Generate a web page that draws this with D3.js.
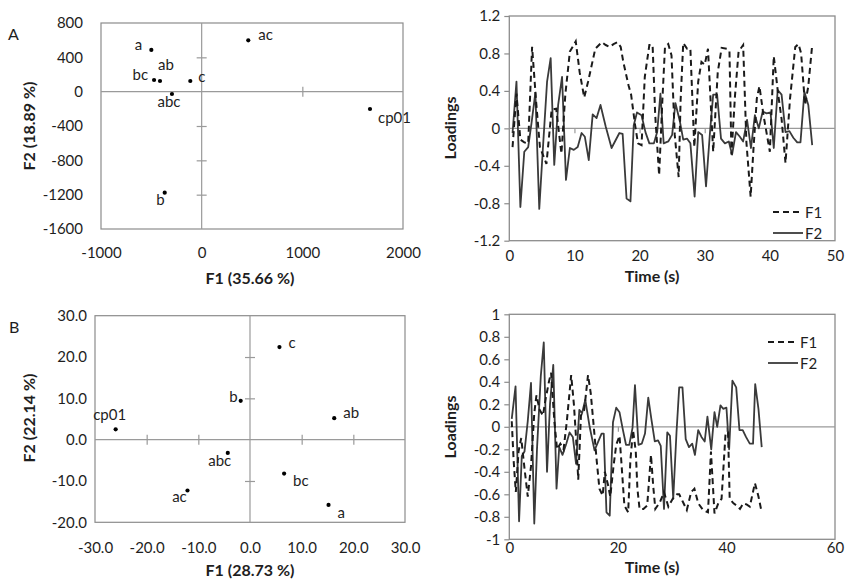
<!DOCTYPE html>
<html><head><meta charset="utf-8">
<script src="https://cdn.jsdelivr.net/npm/d3@7"></script>
<style>
html,body{margin:0;padding:0;background:#fff;}
svg{display:block;font-family:Lato,"Open Sans",sans-serif;}
</style></head>
<body>
<svg id="c" width="846" height="587"></svg>
<script>
// ---------- DATA ----------
// Panel A (scores)
const namesA = ["a","ab","bc","c","abc","ac","cp01","b"];
const scoreF1A = [-500,-414,-473,-113,-295,463,1672,-367];
const scoreF2A = [486,124,136,124,-27,598,-202,-1177];
const xTicksA = [-1000,0,1000,2000];
const yTicksA = [800,400,0,-400,-800,-1200,-1600];

// Panel B (scores)
const namesB = ["c","b","ab","cp01","abc","bc","ac","a"];
const scoreF1B = [5.7,-1.8,16.3,-26.0,-4.3,6.6,-12.1,15.2];
const scoreF2B = [22.4,9.4,5.2,2.5,-3.2,-8.2,-12.3,-15.8];
const xTicksB = [-30,-20,-10,0,10,20,30];
const yTicksB = [30,20,10,0,-10,-20];

// Panel A loadings: [time (s), loading]
const loadF1A = [[0.5,-0.2],[1.1,0.37],[1.7,-0.12],[2.3,-0.15],[2.9,-0.16],[3.5,0.87],[4.1,0.3],[4.7,-0.2],[5.7,-0.38],[6.5,0.2],[7.2,0.21],[8.0,-0.27],[8.6,0.36],[9.3,0.82],[10.2,0.93],[10.8,0.6],[11.5,0.33],[12.1,0.5],[13.2,0.85],[14.2,0.92],[14.8,0.89],[15.4,0.87],[16.0,0.9],[16.6,0.92],[17.1,0.87],[17.5,0.71],[18.3,0.46],[18.7,0.36],[19.3,0.04],[19.75,-0.16],[20.3,-0.18],[20.8,0.55],[21.5,0.89],[22.0,0.89],[22.4,0.14],[23.0,-0.5],[23.5,0.3],[23.9,0.87],[24.4,0.9],[24.9,0.78],[25.4,-0.07],[26.0,-0.52],[26.3,0.3],[26.7,0.91],[27.3,0.85],[27.8,0.85],[28.4,-0.2],[29.0,0.5],[29.5,0.71],[30.0,0.68],[30.5,0.85],[31.3,-0.25],[32.0,0.6],[32.6,0.86],[33.4,0.85],[33.8,0.82],[34.1,-0.28],[34.65,0.35],[35.2,0.82],[35.9,0.89],[36.4,-0.15],[37.05,-0.73],[37.5,-0.2],[38.0,0.32],[38.4,0.45],[39.0,0.15],[40.0,-0.25],[40.6,0.77],[41.3,0.35],[41.8,0.1],[42.4,-0.37],[43.1,0.32],[43.9,0.87],[44.4,0.9],[44.8,0.8],[45.4,0.25],[45.9,0.45],[46.5,0.89]];
const loadF2A = [[0.5,-0.05],[1.1,0.5],[1.7,-0.84],[2.3,-0.25],[2.9,-0.2],[3.4,0.05],[4.0,0.38],[4.6,-0.86],[5.1,-0.28],[5.8,0.5],[6.35,0.75],[6.9,-0.39],[7.5,0.25],[8.1,0.55],[8.7,-0.55],[9.3,-0.21],[9.9,-0.23],[10.5,-0.2],[11.1,-0.05],[11.6,-0.09],[12.2,-0.34],[12.8,0.15],[13.4,0.11],[14.0,0.25],[14.8,0.02],[15.7,-0.21],[16.9,-0.05],[17.4,-0.06],[18.0,-0.75],[18.6,-0.78],[19.1,0.03],[19.6,0.17],[20.3,0.14],[20.9,-0.04],[21.5,-0.16],[22.2,-0.16],[22.7,-0.04],[23.2,0.37],[23.7,-0.16],[24.4,-0.14],[25.0,-0.07],[25.5,0.27],[26.2,0.07],[26.7,-0.12],[27.3,-0.11],[27.8,-0.16],[28.45,-0.73],[29.0,-0.04],[29.6,-0.07],[30.2,-0.62],[30.8,-0.05],[31.3,0.36],[31.9,0.36],[32.5,-0.11],[33.1,-0.16],[33.7,-0.14],[34.2,-0.28],[34.8,-0.04],[35.4,-0.09],[35.9,-0.14],[36.5,0.09],[37.1,-0.21],[37.7,0.14],[38.3,0.0],[38.9,0.18],[39.5,0.16],[40.1,0.17],[40.6,-0.21],[41.2,0.41],[41.8,0.36],[42.4,-0.04],[43.0,-0.03],[43.6,-0.1],[44.2,-0.15],[44.7,-0.15],[45.3,0.39],[45.9,0.25],[46.5,-0.18]];
const timeTicksA = [0,10,20,30,40,50];
const loadTicksA = [1.2,0.8,0.4,0,-0.4,-0.8,-1.2];

// Panel B loadings
const loadF1B = [[0.45,0.05],[0.8,-0.3],[1.2,-0.58],[1.7,-0.22],[2.2,-0.1],[2.8,-0.37],[3.4,-0.62],[4.0,-0.35],[4.6,0.12],[5.0,0.28],[5.6,0.15],[6.2,0.1],[6.7,0.25],[7.3,0.4],[7.7,0.48],[8.3,0.05],[8.8,-0.2],[9.4,-0.15],[10.0,-0.2],[10.6,0.05],[11.4,0.46],[11.9,0.2],[12.3,-0.1],[12.7,-0.47],[13.2,0.1],[13.8,0.15],[14.5,0.46],[15.0,0.3],[15.6,-0.02],[16.1,-0.3],[16.6,-0.55],[17.2,-0.61],[17.6,-0.4],[18.2,-0.52],[18.6,-0.62],[19.2,-0.35],[19.7,-0.16],[20.3,-0.08],[20.7,-0.35],[21.2,-0.7],[21.9,-0.76],[22.3,-0.3],[22.8,-0.03],[23.3,-0.22],[23.6,-0.55],[24.0,-0.73],[24.7,-0.73],[25.4,-0.7],[26.1,-0.25],[26.5,-0.52],[26.9,-0.73],[27.75,-0.67],[28.5,-0.58],[29.3,-0.71],[30.1,-0.64],[30.9,-0.6],[31.3,-0.6],[31.9,-0.66],[32.7,-0.74],[33.5,-0.58],[34.1,-0.55],[34.8,-0.68],[35.7,-0.74],[36.6,-0.76],[37.15,-0.22],[37.8,-0.77],[38.5,-0.68],[39.1,-0.64],[39.85,-0.05],[40.3,-0.05],[40.6,-0.64],[41.3,-0.68],[41.9,-0.7],[42.5,-0.73],[43.1,-0.68],[43.7,-0.69],[44.3,-0.71],[45.25,-0.5],[45.9,-0.62],[46.5,-0.76]];
const loadF2B = [[0.45,0.07],[1.15,0.36],[1.8,-0.84],[2.3,-0.26],[2.8,-0.22],[3.4,0.05],[4.0,0.39],[4.6,-0.86],[5.1,-0.2],[5.8,0.45],[6.35,0.75],[6.95,-0.4],[7.5,0.2],[8.1,0.55],[8.7,-0.55],[9.2,-0.18],[9.8,-0.25],[10.5,-0.15],[11.1,-0.05],[11.7,-0.09],[12.3,-0.33],[12.9,0.15],[13.4,0.12],[14.0,0.24],[14.8,0.0],[15.7,-0.21],[17.0,-0.06],[17.4,-0.06],[17.9,-0.76],[18.5,-0.79],[19.1,0.04],[19.7,0.17],[20.3,0.13],[20.9,-0.02],[21.5,-0.16],[22.1,-0.16],[22.7,-0.01],[23.15,0.37],[23.8,-0.16],[24.4,-0.15],[25.0,-0.06],[25.6,0.26],[26.2,0.06],[26.8,-0.13],[27.4,-0.12],[27.9,-0.17],[28.5,-0.73],[29.1,-0.05],[29.6,-0.08],[30.2,-0.64],[30.8,-0.05],[31.3,0.35],[31.9,0.35],[32.5,-0.11],[33.1,-0.18],[33.7,-0.15],[34.2,-0.25],[34.8,-0.03],[35.4,-0.09],[36.0,-0.13],[36.5,0.09],[37.2,-0.2],[37.8,0.13],[38.3,0.0],[38.9,0.19],[39.4,0.16],[40.0,0.17],[40.5,-0.2],[41.1,0.41],[41.8,0.35],[42.4,-0.03],[43.0,-0.03],[43.6,-0.09],[44.3,-0.15],[44.9,-0.15],[45.3,0.38],[45.9,0.16],[46.5,-0.18]];
const timeTicksB = [0,20,40,60];
const loadTicksB = [1,0.8,0.6,0.4,0.2,0,-0.2,-0.4,-0.6,-0.8,-1];

// ---------- LAYOUT / STYLE ----------
const svg = d3.select("#c");
const FRAME = "#8c8c8c", ZERO = "#9a9a9a", TXT = "#1e1e1e";
const TICKFONT = 15;
const loc = d3.formatLocale({decimal:".", thousands:",", grouping:[3], currency:["",""], minus:"-"});
const fmtInt = loc.format("d");
const fmt1 = loc.format(".1f");
const fmtLoad = v => loc.format("")(+(+v).toFixed(2));

// label placement per point name: [anchor, dx, dy]
const labA = {a:["end",-9,0], ab:["start",-2,-11], bc:["end",-6,0], c:["start",8,1], abc:["middle",-3,13], ac:["start",10,0], cp01:["start",8,14], b:["end",0,12]};
const labB = {c:["start",9,1], b:["end",-3,1], ab:["start",9,0], cp01:["middle",-6,-9], abc:["middle",-8,13], bc:["start",9,12], ac:["middle",-8,12], a:["start",9,13]};

function styleAxisText(g){
  g.selectAll("text").attr("fill",TXT).style("font-size",TICKFONT+"px").style("font-family","Lato, 'Open Sans', sans-serif");
  g.select(".domain").remove();
}

function scatter(cfg){
  const x = d3.scaleLinear().domain(cfg.xDom).range([cfg.l,cfg.r]);
  const y = d3.scaleLinear().domain(cfg.yDom).range([cfg.b,cfg.t]);
  const g = svg.append("g");
  g.append("rect").attr("x",cfg.l).attr("y",cfg.t).attr("width",cfg.r-cfg.l).attr("height",cfg.b-cfg.t)
    .attr("fill","none").attr("stroke",FRAME).attr("stroke-width",1.2);
  g.append("line").attr("x1",cfg.l).attr("x2",cfg.r).attr("y1",y(0)).attr("y2",y(0)).attr("stroke",ZERO).attr("stroke-width",1.2);
  g.append("line").attr("x1",x(0)).attr("x2",x(0)).attr("y1",cfg.t).attr("y2",cfg.b).attr("stroke",ZERO).attr("stroke-width",1.2);
  const cx = g.append("g").attr("transform",`translate(0,${y(0)-5})`)
    .call(d3.axisBottom(x).tickValues(cfg.xTicks.filter(v=>v!==0 && v!==cfg.xDom[0] && v!==cfg.xDom[1])).tickSize(10).tickFormat(""));
  cx.select(".domain").remove(); cx.selectAll("line").attr("stroke",ZERO).attr("stroke-width",1.2);
  const cy = g.append("g").attr("transform",`translate(${x(0)+5},0)`)
    .call(d3.axisLeft(y).tickValues(cfg.yTicks.filter(v=>v!==0 && v!==cfg.yDom[0] && v!==cfg.yDom[1])).tickSize(10).tickFormat(""));
  cy.select(".domain").remove(); cy.selectAll("line").attr("stroke",ZERO).attr("stroke-width",1.2);
  const ax = g.append("g").attr("transform",`translate(0,${cfg.b})`)
    .call(d3.axisBottom(x).tickValues(cfg.xTicks).tickSize(0).tickPadding(cfg.xPad).tickFormat(cfg.fmt));
  styleAxisText(ax);
  const ay = g.append("g").attr("transform",`translate(${cfg.l},0)`)
    .call(d3.axisLeft(y).tickValues(cfg.yTicks).tickSize(0).tickPadding(cfg.yPad).tickFormat(cfg.fmt));
  styleAxisText(ay);
  const pts = cfg.names.map((n,i)=>({n, x:cfg.xs[i], y:cfg.ys[i]}));
  g.selectAll("circle.p").data(pts).join("circle").attr("class","p")
    .attr("cx",d=>x(d.x)).attr("cy",d=>y(d.y)).attr("r",2.1).attr("fill","#000");
  g.selectAll("text.lab").data(pts).join("text").attr("class","lab")
    .attr("x",d=>x(d.x)+cfg.lab[d.n][1]).attr("y",d=>y(d.y)+cfg.lab[d.n][2])
    .attr("text-anchor",d=>cfg.lab[d.n][0]).attr("fill",TXT).style("font-size","15px").text(d=>d.n);
  g.append("text").attr("x",cfg.xtX).attr("y",cfg.xtY).attr("text-anchor","middle").attr("fill",TXT)
    .style("font-size","16px").style("font-weight","bold").text(cfg.xTitle);
  g.append("text").attr("transform",`translate(${cfg.ytX},${cfg.ytY}) rotate(-90)`).attr("text-anchor","middle").attr("fill",TXT)
    .style("font-size","16px").style("font-weight","bold").text(cfg.yTitle);
  g.append("text").attr("x",cfg.panX).attr("y",cfg.panY).attr("fill",TXT).style("font-size","16px").text(cfg.panel);
}

function loadings(cfg){
  const x = d3.scaleLinear().domain(cfg.xDom).range([cfg.l,cfg.r]);
  const y = d3.scaleLinear().domain(cfg.yDom).range([cfg.b,cfg.t]);
  const g = svg.append("g");
  g.append("rect").attr("x",cfg.l).attr("y",cfg.t).attr("width",cfg.r-cfg.l).attr("height",cfg.b-cfg.t)
    .attr("fill","none").attr("stroke",FRAME).attr("stroke-width",1.3);
  g.append("line").attr("x1",cfg.l).attr("x2",cfg.r).attr("y1",y(0)).attr("y2",y(0)).attr("stroke",ZERO).attr("stroke-width",1.2);
  const tx = g.append("g").attr("transform",`translate(0,${y(0)})`)
    .call(d3.axisBottom(x).tickValues(cfg.xTicks.filter(v=>v!==cfg.xDom[0] && v!==cfg.xDom[1])).tickSize(5).tickFormat(""));
  tx.select(".domain").remove(); tx.selectAll("line").attr("stroke",ZERO).attr("stroke-width",1.2);
  const ax = g.append("g").attr("transform",`translate(0,${cfg.b})`)
    .call(d3.axisBottom(x).tickValues(cfg.xTicks).tickSize(0).tickPadding(cfg.xPad).tickFormat(fmtInt));
  styleAxisText(ax);
  const ay = g.append("g").attr("transform",`translate(${cfg.l},0)`)
    .call(d3.axisLeft(y).tickValues(cfg.yTicks).tickSize(5).tickPadding(4).tickFormat(fmtLoad));
  styleAxisText(ay); ay.selectAll("line").attr("stroke",FRAME).attr("stroke-width",1.2);
  const line = d3.line().x(d=>x(d[0])).y(d=>y(d[1]));
  g.append("path").datum(cfg.f2).attr("d",line).attr("fill","none").attr("stroke","#3a3a3a").attr("stroke-width",1.8).attr("stroke-linejoin","round");
  g.append("path").datum(cfg.f1).attr("d",line).attr("fill","none").attr("stroke","#1a1a1a").attr("stroke-width",2).attr("stroke-dasharray","6,4");
  const lg = g.append("g");
  lg.append("line").attr("x1",cfg.legX).attr("x2",cfg.legX+30).attr("y1",cfg.legY).attr("y2",cfg.legY)
    .attr("stroke","#1a1a1a").attr("stroke-width",2).attr("stroke-dasharray","6,4");
  lg.append("text").attr("x",cfg.legX+32).attr("y",cfg.legY+5.5).attr("fill",TXT).style("font-size","15px").text("F1");
  lg.append("line").attr("x1",cfg.legX).attr("x2",cfg.legX+30).attr("y1",cfg.legY+21).attr("y2",cfg.legY+21)
    .attr("stroke","#3a3a3a").attr("stroke-width",1.8);
  lg.append("text").attr("x",cfg.legX+32).attr("y",cfg.legY+26.5).attr("fill",TXT).style("font-size","15px").text("F2");
  g.append("text").attr("x",cfg.xtX).attr("y",cfg.xtY).attr("text-anchor","middle").attr("fill",TXT)
    .style("font-size","16px").style("font-weight","bold").text("Time (s)");
  g.append("text").attr("transform",`translate(${cfg.ytX},${cfg.ytY}) rotate(-90)`).attr("text-anchor","middle").attr("fill",TXT)
    .style("font-size","16px").style("font-weight","bold").text("Loadings");
}

scatter({l:101,r:403,t:23,b:229,xDom:[-1000,2000],yDom:[-1600,800],xTicks:xTicksA,yTicks:yTicksA,
  fmt:fmtInt,xPad:18,yPad:18,names:namesA,xs:scoreF1A,ys:scoreF2A,lab:labA,
  xTitle:"F1 (35.66 %)",xtX:250,xtY:284,yTitle:"F2 (18.89 %)",ytX:35,ytY:126,panel:"A",panX:8,panY:40});
scatter({l:95,r:405,t:315.7,b:522.3,xDom:[-30,30],yDom:[-20,30],xTicks:xTicksB,yTicks:yTicksB,
  fmt:fmt1,xPad:20,yPad:8,names:namesB,xs:scoreF1B,ys:scoreF2B,lab:labB,
  xTitle:"F1 (28.73 %)",xtX:250,xtY:576,yTitle:"F2 (22.14 %)",ytX:35,ytY:418,panel:"B",panX:9,panY:333});
loadings({l:509.3,r:835,t:16,b:240.7,xDom:[0,50],yDom:[-1.2,1.2],xTicks:timeTicksA,yTicks:loadTicksA,
  f1:loadF1A,f2:loadF2A,xPad:10,legX:773,legY:212,xtX:652,xtY:282,ytX:456,ytY:128});
loadings({l:509.3,r:835,t:314.3,b:539.3,xDom:[0,60],yDom:[-1,1],xTicks:timeTicksB,yTicks:loadTicksB,
  f1:loadF1B,f2:loadF2B,xPad:3,legX:768,legY:342,xtX:652,xtY:573,ytX:456,ytY:427});
</script>
</body></html>
